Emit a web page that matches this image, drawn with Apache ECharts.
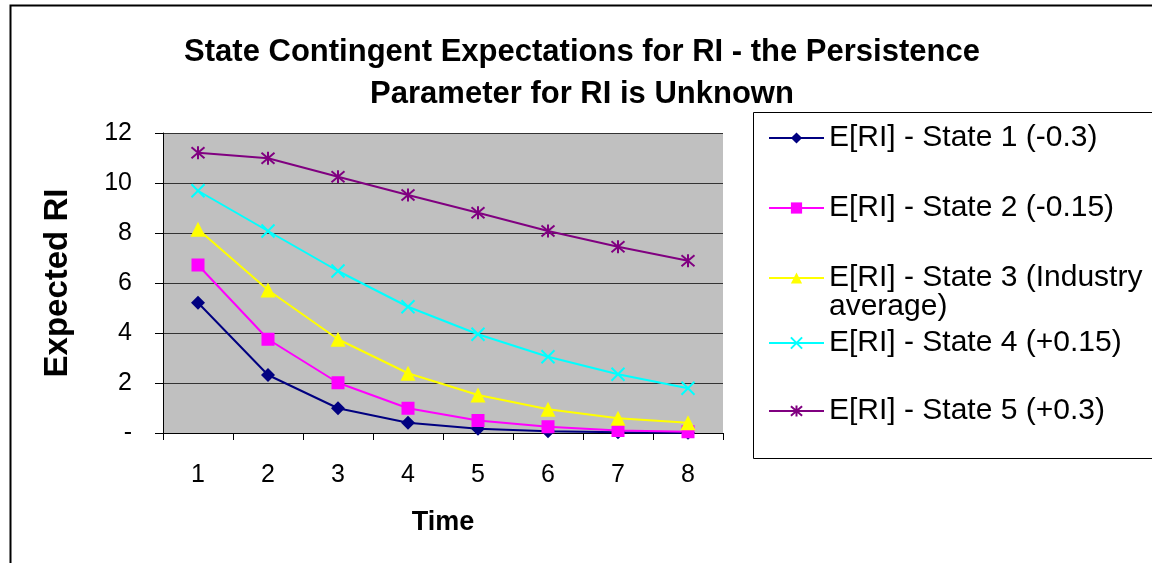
<!DOCTYPE html>
<html>
<head>
<meta charset="utf-8">
<title>State Contingent Expectations for RI</title>
<script src="https://cdn.jsdelivr.net/npm/echarts@6/dist/echarts.min.js"></script>
<style>
  html, body { margin: 0; padding: 0; background: #fff; }
  #chart { width: 1152px; height: 563px; }
</style>
</head>
<body>
<div id="chart"></div>
<script>
// data
var periods = ['1', '2', '3', '4', '5', '6', '7', '8'];
var state1 = [5.21, 2.32, 0.99, 0.41, 0.17, 0.07, 0.03, 0.01];
var state2 = [6.72, 3.75, 2.01, 0.99, 0.50, 0.25, 0.10, 0.05];
var state3 = [8.15, 5.72, 3.75, 2.39, 1.52, 0.95, 0.59, 0.41];
var state4 = [9.69, 8.08, 6.48, 5.05, 3.95, 3.05, 2.35, 1.79];
var state5 = [11.21, 10.99, 10.25, 9.52, 8.81, 8.08, 7.45, 6.89];
var yTicks = ['-', '2', '4', '6', '8', '10', '12'];

var names = [
  'E[RI] - State 1 (-0.3)',
  'E[RI] - State 2 (-0.15)',
  'E[RI] - State 3 (Industry average)',
  'E[RI] - State 4 (+0.15)',
  'E[RI] - State 5 (+0.3)'
];

var font = 'Liberation Sans, Arial, sans-serif';
var crossPath = 'path://M0,0L10,10M10,0L0,10';
var starPath = 'path://M0,0L10,10M10,0L0,10M5,-1L5,11';

function mkSeries(name, data, color, symbol, size, stroke) {
  return {
    name: name,
    type: 'line',
    data: data,
    symbol: symbol,
    symbolSize: size,
    showAllSymbol: true,
    lineStyle: { color: color, width: 2 },
    itemStyle: stroke
      ? { color: color, borderColor: color, borderWidth: 2 }
      : { color: color, borderWidth: 0 },
    emphasis: { disabled: true },
    z: 3
  };
}

// one legend per entry so the spacing follows the picture
function mkLegend(name, top, wrap) {
  var lg = {
    data: [name],
    left: 768,
    top: top,
    padding: 0,
    orient: 'vertical',
    itemWidth: 55,
    itemHeight: 14,
    selectedMode: false,
    textStyle: { fontFamily: font, fontSize: 30, color: '#000', lineHeight: 29 }
  };
  if (wrap) {
    // empty first line keeps the icon level with the first text line
    lg.formatter = function () { return ' \nE[RI] - State 3 (Industry\naverage)'; };
  }
  return lg;
}

var chart = echarts.init(document.getElementById('chart'));

var option = {
  animation: false,
  backgroundColor: '#fff',
  title: {
    text: 'State Contingent Expectations for RI - the Persistence\nParameter for RI is Unknown',
    left: 577,
    top: 26,
    textAlign: 'center',
    textStyle: { fontFamily: font, fontSize: 31, fontWeight: 'bold', color: '#000', lineHeight: 42 }
  },
  legend: [
    mkLegend(names[0], 123),
    mkLegend(names[1], 193),
    mkLegend(names[2], 234, true),
    mkLegend(names[3], 328),
    mkLegend(names[4], 396)
  ],
  grid: {
    left: 163,
    right: 429,
    top: 133,
    bottom: 130,
    show: true,
    backgroundColor: '#C0C0C0',
    borderWidth: 0
  },
  xAxis: {
    type: 'category',
    data: periods,
    boundaryGap: true,
    name: 'Time',
    nameLocation: 'middle',
    nameGap: 76,
    nameTextStyle: { fontFamily: font, fontSize: 27, fontWeight: 'bold', color: '#000' },
    axisLine: { lineStyle: { color: '#000', width: 1 } },
    axisTick: { show: true, length: 7, inside: false, lineStyle: { color: '#000' } },
    axisLabel: { fontFamily: font, fontSize: 25, color: '#000', margin: 30 },
    splitLine: { show: false }
  },
  yAxis: {
    type: 'value',
    min: 0,
    max: 12,
    interval: 2,
    name: 'Expected RI',
    nameLocation: 'middle',
    nameGap: 89,
    nameTextStyle: { fontFamily: font, fontSize: 33, fontWeight: 'bold', color: '#000' },
    axisLine: { show: true, lineStyle: { color: '#000', width: 1 } },
    axisTick: { show: true, length: 8, inside: false, lineStyle: { color: '#000' } },
    axisLabel: {
      fontFamily: font, fontSize: 25, color: '#000', margin: 31,
      formatter: function (v) { return yTicks[Math.round(v / 2)]; }
    },
    splitLine: { show: true, lineStyle: { color: '#333', width: 1 } }
  },
  series: [
    mkSeries(names[0], state1, '#000080', 'diamond', 14, false),
    mkSeries(names[1], state2, '#FF00FF', 'rect', 13, false),
    mkSeries(names[2], state3, '#FFFF00', 'triangle', 15, false),
    mkSeries(names[3], state4, '#00FFFF', crossPath, 13, true),
    mkSeries(names[4], state5, '#800080', starPath, 13, true)
  ],
  graphic: [
    {
      type: 'rect',
      shape: { x: 10.5, y: 5.5, width: 1200, height: 600 },
      style: { fill: 'none', stroke: '#000', lineWidth: 2 },
      silent: true
    },
    {
      type: 'rect',
      shape: { x: 753.5, y: 112.5, width: 450, height: 346 },
      style: { fill: 'none', stroke: '#000', lineWidth: 1 },
      silent: true
    }
  ]
};

chart.setOption(option);
</script>
</body>
</html>
